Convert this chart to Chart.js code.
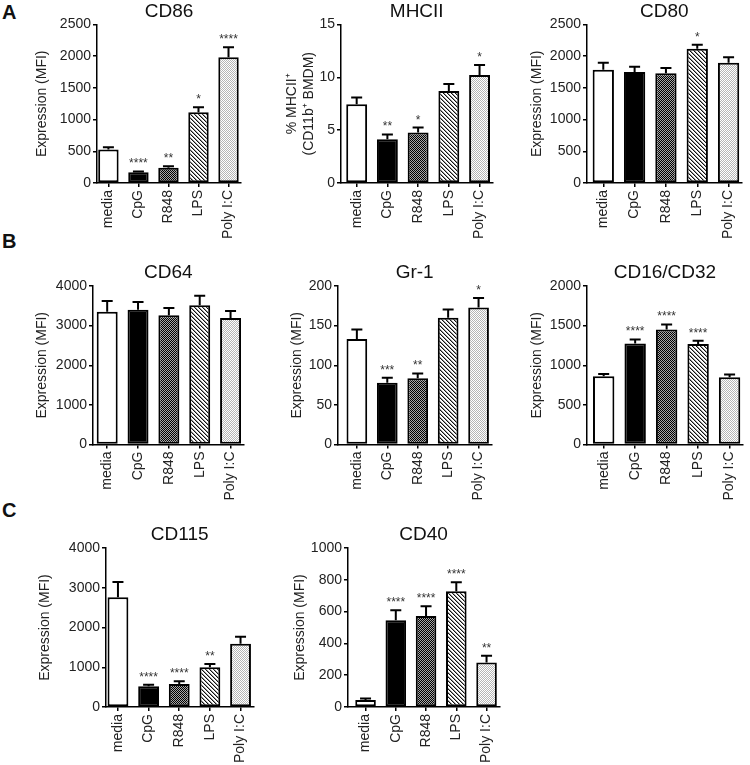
<!DOCTYPE html>
<html>
<head>
<meta charset="utf-8">
<title>BMDM surface markers</title>
<script src="https://cdn.jsdelivr.net/npm/chart.js@4"></script>
<style>
  html, body { margin: 0; padding: 0; background: #fff; overflow: hidden; }
  body { width: 750px; height: 765px; position: relative; font-family: "Liberation Sans", Arial, sans-serif; }
  canvas { position: absolute; }
  .tag { position: absolute; left: 2px; font-weight: bold; font-size: 20px; line-height: 1; color: #111; }
</style>
</head>
<body>
<div class="tag" style="top:2px">A</div>
<div class="tag" style="top:231px">B</div>
<div class="tag" style="top:500px">C</div>
<script>
// data (mean, upper SEM, significance stars)
var categories = ['media', 'CpG', 'R848', 'LPS', 'Poly I:C'];

var cd86Mean = [530, 168, 242, 1116, 1984];
var cd86Err = [35, 15, 21, 79, 158];
var cd86Stars = ['', '****', '**', '*', '****'];

var mhciiMean = [7.45, 4.15, 4.78, 8.7, 10.22];
var mhciiErr = [0.65, 0.45, 0.47, 0.67, 0.94];
var mhciiStars = ['', '**', '*', '', '*'];

var cd80Mean = [1786, 1749, 1733, 2117, 1896];
var cd80Err = [110, 84, 79, 63, 89];
var cd80Stars = ['', '', '', '*', ''];

var cd64Mean = [3352, 3402, 3259, 3512, 3192];
var cd64Err = [269, 194, 185, 244, 176];
var cd64Stars = ['', '', '', '', ''];

var gr1Mean = [133, 78, 83.6, 160, 173];
var gr1Err = [12, 6.3, 6, 10.5, 11.8];
var gr1Stars = ['', '***', '**', '', '*'];

var cd16Mean = [862, 1276, 1452, 1268, 849];
var cd16Err = [29, 50, 63, 42, 34];
var cd16Stars = ['', '****', '****', '****', ''];

var cd115Mean = [2759, 520, 579, 998, 1593];
var cd115Err = [386, 42, 67, 84, 176];
var cd115Stars = ['', '****', '****', '**', ''];

var cd40Mean = [44, 546, 573, 728, 280];
var cd40Err = [10, 63, 61, 57, 42];
var cd40Stars = ['', '****', '****', '****', '**'];

var mfiTitle = 'Expression (MFI)';
var mhciiTitle = ['% MHCII\u207A', '(CD11b\u207A BMDM)'];

var FONT = "'Liberation Sans', Arial, sans-serif";
Chart.defaults.font.family = FONT;

// fill patterns
function tile(size, draw) {
  var c = document.createElement('canvas');
  c.width = size; c.height = size;
  var g = c.getContext('2d');
  draw(g);
  return g.createPattern(c, 'repeat');
}
var fillR848 = tile(2, function (g) {
  g.fillStyle = '#a8a8a8'; g.fillRect(0, 0, 2, 2);
  g.fillStyle = '#000'; g.fillRect(0, 0, 1, 1); g.fillRect(1, 1, 1, 1);
});
var fillLPS = tile(4, function (g) {
  g.fillStyle = '#fff'; g.fillRect(0, 0, 4, 4);
  for (var i = 0; i < 4; i++) {
    g.fillStyle = '#111'; g.fillRect(i, i, 1, 1);
    g.fillStyle = '#999'; g.fillRect((i + 1) % 4, i, 1, 1);
  }
});
var fillPoly = tile(2, function (g) {
  g.fillStyle = '#fff'; g.fillRect(0, 0, 2, 2);
  g.fillStyle = '#b5b5b5'; g.fillRect(0, 0, 1, 1); g.fillRect(1, 1, 1, 1);
});
var fills = ['#fff', '#000', fillR848, fillLPS, fillPoly];

var errorBars = {
  id: 'errorBars',
  afterDatasetsDraw: function (chart) {
    var ds = chart.data.datasets[0];
    var meta = chart.getDatasetMeta(0);
    var y = chart.scales.y;
    var ctx = chart.ctx;
    ctx.save();
    ctx.strokeStyle = '#000';
    ctx.lineWidth = 2;
    ctx.fillStyle = '#333';
    ctx.font = '12px ' + FONT;
    ctx.textAlign = 'center';
    ctx.textBaseline = 'alphabetic';
    meta.data.forEach(function (bar, i) {
      var top = y.getPixelForValue(ds.data[i].y + ds.err[i]);
      ctx.beginPath();
      ctx.moveTo(bar.x, bar.y);
      ctx.lineTo(bar.x, top);
      ctx.moveTo(bar.x - 5.5, top);
      ctx.lineTo(bar.x + 5.5, top);
      ctx.stroke();
      if (ds.stars[i]) ctx.fillText(ds.stars[i], bar.x, top - 4);
    });
    ctx.restore();
  }
};

var panels = [
  { title: 'CD86', mean: cd86Mean, err: cd86Err, stars: cd86Stars, yMax: 2500, step: 500, yTitle: mfiTitle,
    x0: 97, y0: 24.5, y1: 183, xMin: -0.38, x1: 249.3, ytx: 42, bottom: 72 },
  { title: 'MHCII', mean: mhciiMean, err: mhciiErr, stars: mhciiStars, yMax: 15, step: 5, yTitle: mhciiTitle,
    x0: 341, y0: 24.5, y1: 183, xMin: -0.51, x1: 499.5, ytx: 292, bottom: 72 },
  { title: 'CD80', mean: cd80Mean, err: cd80Err, stars: cd80Stars, yMax: 2500, step: 500, yTitle: mfiTitle,
    x0: 587, y0: 24.5, y1: 183, xMin: -0.52, x1: 749, ytx: 537, bottom: 72 },
  { title: 'CD64', mean: cd64Mean, err: cd64Err, stars: cd64Stars, yMax: 4000, step: 1000, yTitle: mfiTitle,
    x0: 93, y0: 286, y1: 444.5, xMin: -0.46, x1: 251, ytx: 42, bottom: 72 },
  { title: 'Gr-1', mean: gr1Mean, err: gr1Err, stars: gr1Stars, yMax: 200, step: 50, yTitle: mfiTitle,
    x0: 338, y0: 286, y1: 444.5, xMin: -0.62, x1: 499.4, ytx: 297, bottom: 72 },
  { title: 'CD16/CD32', mean: cd16Mean, err: cd16Err, stars: cd16Stars, yMax: 2000, step: 500, yTitle: mfiTitle,
    x0: 587, y0: 286, y1: 444.5, xMin: -0.53, x1: 749.5, ytx: 537, bottom: 72 },
  { title: 'CD115', mean: cd115Mean, err: cd115Err, stars: cd115Stars, yMax: 4000, step: 1000, yTitle: mfiTitle,
    x0: 106, y0: 548, y1: 707, xMin: -0.39, x1: 261.4, ytx: 45, bottom: 58 },
  { title: 'CD40', mean: cd40Mean, err: cd40Err, stars: cd40Stars, yMax: 1000, step: 200, yTitle: mfiTitle,
    x0: 348, y0: 548, y1: 707, xMin: -0.58, x1: 507.4, ytx: 300, bottom: 58 }
];

panels.forEach(function (p) {
  var left = Math.round(p.ytx - 10.4);
  var top = Math.round(p.y0 - 25);
  var width = Math.round(p.x1 - left);
  var height = Math.round(p.y1 + p.bottom - top);
  var cv = document.createElement('canvas');
  cv.width = width; cv.height = height;
  cv.style.left = left + 'px'; cv.style.top = top + 'px';
  document.body.appendChild(cv);

  new Chart(cv, {
    type: 'bar',
    data: {
      datasets: [{
        data: p.mean.map(function (v, i) { return { x: i, y: v }; }),
        err: p.err,
        stars: p.stars,
        backgroundColor: fills,
        borderColor: '#000',
        borderWidth: 2,
        borderSkipped: false,
        barPercentage: 0.68,
        categoryPercentage: 1
      }]
    },
    options: {
      responsive: false,
      animation: false,
      layout: { padding: 0 },
      plugins: {
        legend: { display: false },
        tooltip: { enabled: false },
        title: {
          display: true, text: p.title, fullSize: false, color: '#111',
          font: { size: 19, weight: 'normal' },
          padding: { top: 0, bottom: (p.y0 - top) - 22.8 }
        }
      },
      scales: {
        x: {
          type: 'linear', min: p.xMin, max: 4.42, offset: false,
          afterBuildTicks: function (s) { s.ticks = categories.map(function (c, i) { return { value: i }; }); },
          afterFit: function (s) { s.height = height - (p.y1 - top); },
          grid: { offset: false, drawOnChartArea: false, tickLength: 4, color: '#000', lineWidth: 1.5 },
          border: { color: '#000', width: 1.5 },
          ticks: {
            autoSkip: false, maxRotation: 90, minRotation: 90, padding: 3, color: '#222',
            font: { size: 14 },
            callback: function (v) { return categories[v]; }
          }
        },
        y: {
          min: 0, max: p.yMax,
          afterFit: function (s) { s.width = p.x0 - left; },
          grid: { drawOnChartArea: false, tickLength: 4, color: '#000', lineWidth: 1.5 },
          border: { color: '#000', width: 1.5 },
          ticks: {
            stepSize: p.step, padding: 2, color: '#222', font: { size: 14 },
            callback: function (v) { return String(v); }
          },
          title: { display: true, text: p.yTitle, color: '#222', font: { size: 14 }, padding: { top: 2, bottom: 0 } }
        }
      }
    },
    plugins: [errorBars]
  });
});
</script>
</body>
</html>
